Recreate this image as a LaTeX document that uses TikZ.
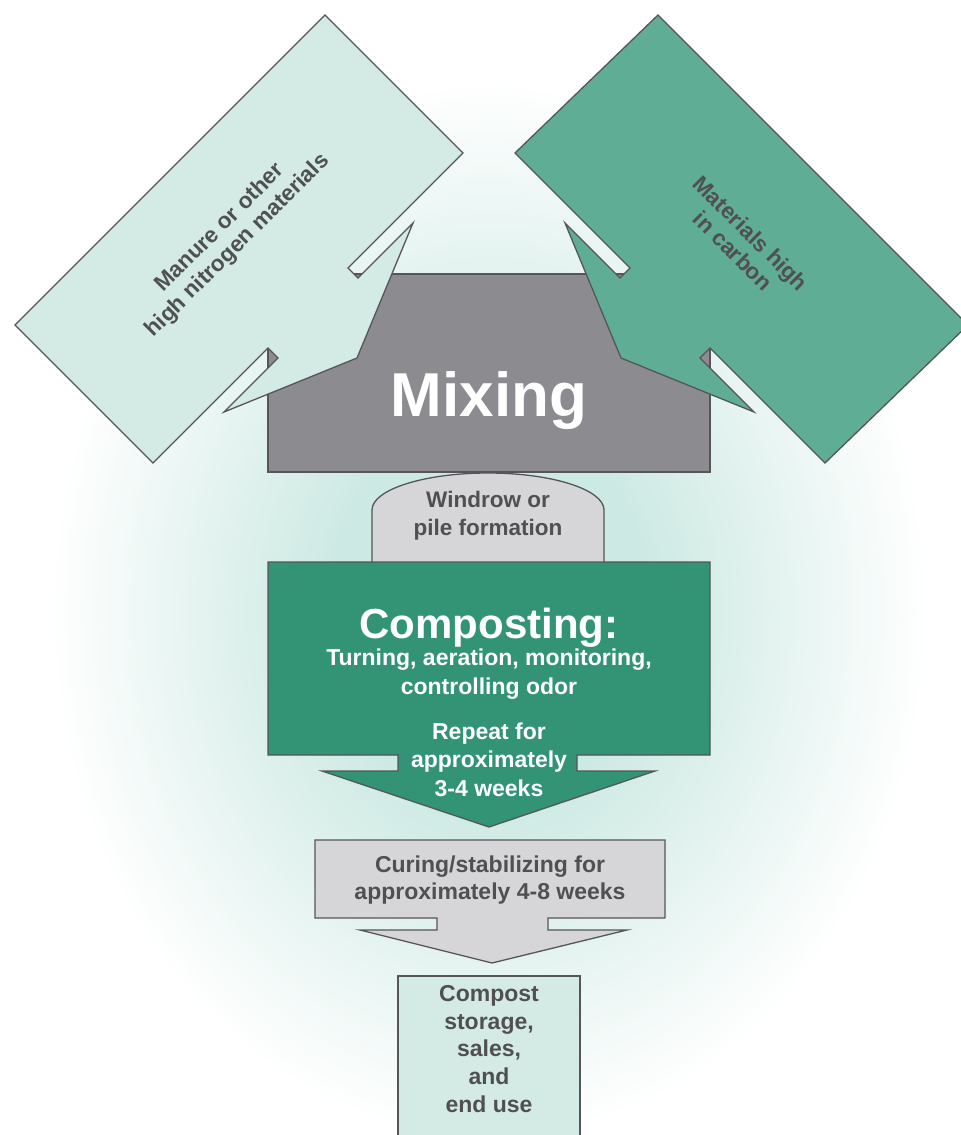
\documentclass[tikz,border=0pt]{standalone}
\usepackage{fontspec}
\setmainfont{Liberation Sans}
\newcommand\setfs[2]{\fontsize{#1}{#2}\selectfont}
\definecolor{palecyan}{HTML}{D3EAE5}
\definecolor{seagreen}{HTML}{60AD95}
\definecolor{deepgreen}{HTML}{329475}
\definecolor{slate}{HTML}{8C8B90}
\definecolor{mist}{HTML}{D6D6D8}
\definecolor{rim}{HTML}{55555A}
\definecolor{ink}{HTML}{505052}
\definecolor{glow}{HTML}{CDE9E3}
\pgfdeclareradialshading{halo}{\pgfpoint{0bp}{0bp}}{color(0bp)=(glow); color(9bp)=(glow); color(25bp)=(white); color(50bp)=(white)}
\begin{document}
\begin{tikzpicture}[x=1pt,y=-1pt,
  rimline/.style={draw=rim, line width=1.3pt, line join=miter},
  lbl/.style={inner sep=0pt, anchor=base},
  darktext/.style={lbl, text=ink, font=\bfseries\setfs{23}{28}},
  lighttext/.style={lbl, text=white, font=\bfseries\setfs{23}{28}}]
\useasboundingbox (0,0) rectangle (961,1135);
\begin{scope}
\clip (0,0) rectangle (961,1135);
% background with a soft glow behind the process chain
\fill[white] (0,0) rectangle (961,1135);
\shade[shading=halo] (489,610) ellipse (440 and 530);

% mixing block (drawn first, the incoming arrows sit on top)
\path[rimline, fill=slate] (268,274) rectangle (710,472);

% nitrogen source callout with its arrow
\path[rimline, fill=palecyan] (325,15) -- (463,153) -- (348,268) -- (358,278)
  -- (413,223) -- (357,358) -- (224,412) -- (278,358) -- (268,348)
  -- (153,463) -- (15,325) -- cycle;

% carbon source callout with its arrow
\path[rimline, fill=seagreen] (658,15) -- (515,153) -- (630,268) -- (620,278)
  -- (565,223) -- (621,358) -- (754,412) -- (700,358) -- (710,348)
  -- (825,463) -- (968,325) -- cycle;

% windrow dome
\path[rimline, fill=mist] (372,562) -- (372,510)
  .. controls (372,489.6) and (424,473) .. (488,473)
  .. controls (552,473) and (604,489.6) .. (604,510) -- (604,562);

% composting block with downward arrow
\path[rimline, fill=deepgreen] (268,562) -- (710,562) -- (710,755) -- (577,755)
  -- (577,771) -- (655,771) -- (489,827) -- (322,771) -- (398,771)
  -- (398,755) -- (268,755) -- cycle;

% curing block with downward arrow
\path[rimline, fill=mist] (315,840) -- (665,840) -- (665,918) -- (548,918)
  -- (548,930) -- (627,930) -- (492,963) -- (360,930) -- (437,930)
  -- (437,918) -- (315,918) -- cycle;

% storage block
\path[rimline, fill=palecyan] (398,976) rectangle (580,1150);
\end{scope}

% labels
\node[inner sep=0pt, text=ink, align=center, rotate=45, font=\bfseries\setfs{22.5}{25}]
  (nitrogen) at (229,237) {Manure or other\\high nitrogen materials};
\node[inner sep=0pt, text=ink, align=center, rotate=-45, font=\bfseries\setfs{22.5}{25}]
  (carbon) at (742,242) {Materials high\\in carbon};

\node[lbl, text=white, font=\bfseries\setfs{62}{70}] (mixing) at (489,416) {Mixing};

\node[darktext, font=\bfseries\setfs{22.5}{26}] (windrow1) at (488,507) {Windrow or};
\node[darktext, font=\bfseries\setfs{22.5}{26}] (windrow2) at (488,535) {pile formation};

\node[lighttext, font=\bfseries\setfs{42}{48}] (compost) at (489,638) {Composting:};
\node[lighttext] (turning) at (489,665) {Turning, aeration, monitoring,};
\node[lighttext] (odor) at (489,694) {controlling odor};
\node[lighttext] (repeat1) at (489,739) {Repeat for};
\node[lighttext] (repeat2) at (489,767) {approximately};
\node[lighttext] (repeat3) at (489,796) {3-4 weeks};

\node[darktext] (curing1) at (490,872) {Curing/stabilizing for};
\node[darktext] (curing2) at (490,899) {approximately 4-8 weeks};

\node[darktext] (store1) at (489,1001) {Compost};
\node[darktext] (store2) at (489,1029) {storage,};
\node[darktext] (store3) at (489,1056) {sales,};
\node[darktext] (store4) at (489,1084) {and};
\node[darktext] (store5) at (489,1112) {end use};
\end{tikzpicture}
\end{document}
